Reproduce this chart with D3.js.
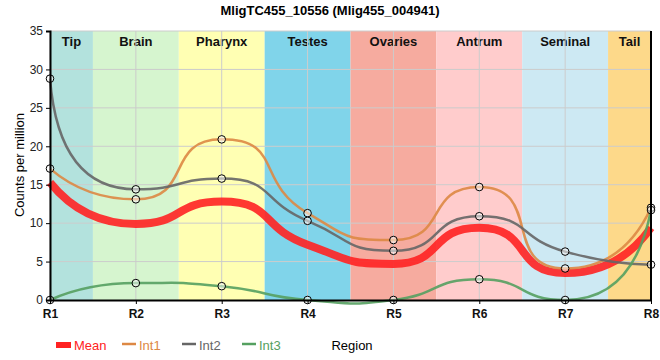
<!DOCTYPE html>
<html><head><meta charset="utf-8">
<script src="https://cdn.jsdelivr.net/npm/d3@7"></script>
<style>body{margin:0;background:#fff;font-family:"Liberation Sans",Arial,sans-serif;}</style>
</head><body><svg id="c" width="660" height="360"></svg>
<script>
const regions = ["R1","R2","R3","R4","R5","R6","R7","R8"];
const tissues = ["Tip","Brain","Pharynx","Testes","Ovaries","Antrum","Seminal","Tail"];
const tissueColors = ["#b3e2dd","#d6f5cf","#ffffb3","#80d4ea","#f6ab9f","#ffcccc","#cde9f3","#fdd98a"];
const int1 = [17.1,13.1,20.9,11.3,7.8,14.7,4.1,12.0];
const int2 = [28.8,14.4,15.8,10.3,6.4,10.9,6.3,4.6];
const int3 = [0,2.2,1.8,0,0,2.7,0,11.7];
const meanVals = [15.3,9.9,12.8,7.2,4.7,9.4,3.5,9.4];
const yTicks = [0,5,10,15,20,25,30,35];
const title = "MligTC455_10556 (Mlig455_004941)";

const svg = d3.select("#c");
const L=50, R=651, T=31, B=300;
const x = d3.scalePoint().domain(regions).range([L,R]);
const y = d3.scaleLinear().domain([0,35]).range([B,T]);
const step = x.step();

// bands
const g = svg.append("g");
tissues.forEach((t,i)=>{
  const x0 = Math.max(L, x(regions[i]) - step/2), x1 = Math.min(R, x(regions[i]) + step/2);
  g.append("rect").attr("x",x0).attr("y",T).attr("width",x1-x0).attr("height",B-T).attr("fill",tissueColors[i]);
  g.append("text").attr("x",(x0+x1)/2).attr("y",T+15).attr("text-anchor","middle")
    .attr("font-size",13).attr("font-weight","bold").attr("fill","#111").text(t);
});
// grid
yTicks.forEach(v=>{ if(v>0) svg.append("line").attr("x1",L).attr("x2",R).attr("y1",y(v)).attr("y2",y(v)).attr("stroke","#ccc").attr("stroke-width",1);});
regions.forEach(r=>svg.append("line").attr("x1",x(r)).attr("x2",x(r)).attr("y1",T).attr("y2",B).attr("stroke","#ccc").attr("stroke-width",1));

// smooth spline: horizontal tangents at local extrema, handle length proportional to chord
const K = 0.55;
function splinePath(vals){
  const P = vals.map((v,i)=>[x(regions[i]), y(v)]);
  const n = P.length;
  const dist=(a,b)=>Math.hypot(b[0]-a[0], b[1]-a[1]);
  const Lh=[], Rh=[];
  for(let i=1;i<n-1;i++){
    let u;
    if((vals[i]-vals[i-1])*(vals[i+1]-vals[i])<0) u=[1,0];
    else { const dx=P[i+1][0]-P[i-1][0], dy=P[i+1][1]-P[i-1][1], m=Math.hypot(dx,dy); u=[dx/m,dy/m]; }
    const l=K*dist(P[i-1],P[i]), r=K*dist(P[i],P[i+1]);
    Lh[i]=[P[i][0]-l*u[0], P[i][1]-l*u[1]];
    Rh[i]=[P[i][0]+r*u[0], P[i][1]+r*u[1]];
  }
  const p=d3.path();
  p.moveTo(P[0][0],P[0][1]);
  p.quadraticCurveTo(Lh[1][0],Lh[1][1],P[1][0],P[1][1]);
  for(let i=1;i<n-2;i++) p.bezierCurveTo(Rh[i][0],Rh[i][1],Lh[i+1][0],Lh[i+1][1],P[i+1][0],P[i+1][1]);
  p.quadraticCurveTo(Rh[n-2][0],Rh[n-2][1],P[n-1][0],P[n-1][1]);
  return p.toString();
}
const series = [
  {name:"Int1", vals:int1, color:"#dd8844"},
  {name:"Int2", vals:int2, color:"#666666"},
  {name:"Int3", vals:int3, color:"#55a060"}
];
svg.append("path").attr("d",splinePath(meanVals)).attr("fill","none").attr("stroke","#ff2222").attr("stroke-width",8).attr("stroke-opacity",0.9);
series.forEach(s=>{
  svg.append("path").attr("d",splinePath(s.vals)).attr("fill","none").attr("stroke",s.color).attr("stroke-width",2.5).attr("stroke-opacity",0.9);
});
series.forEach(s=>{
  svg.selectAll(null).data(s.vals).enter().append("circle")
    .attr("cx",(d,i)=>x(regions[i])).attr("cy",d=>y(d)).attr("r",3.8)
    .attr("fill","#fff").attr("fill-opacity",0.5).attr("stroke","#000").attr("stroke-width",1);
});

// axes
const ya = svg.append("g").attr("transform",`translate(${L},0)`).call(d3.axisLeft(y).tickValues(yTicks).tickSize(4));
ya.select(".domain").attr("stroke-width",2);
ya.selectAll("text").attr("font-size",12).attr("fill","#222").attr("font-family","Liberation Sans, Arial");
const xa = svg.append("g").attr("transform",`translate(0,${B})`).call(d3.axisBottom(x).tickSize(4).tickSizeOuter(0));
xa.select(".domain").attr("stroke-width",2);
xa.selectAll("text").attr("font-size",12).attr("font-weight","bold").attr("fill","#111").attr("font-family","Liberation Sans, Arial").attr("dy","0.9em");
svg.append("line").attr("x1",R).attr("x2",R).attr("y1",T).attr("y2",B).attr("stroke","#000").attr("stroke-width",2);

// title & labels
svg.append("text").attr("x",330).attr("y",15).attr("text-anchor","middle").attr("font-size",13).attr("font-weight","bold").text(title);
svg.append("text").attr("transform","translate(24,165) rotate(-90)").attr("text-anchor","middle").attr("font-size",13).text("Counts per million");
svg.append("text").attr("x",352).attr("y",350).attr("text-anchor","middle").attr("font-size",13).text("Region");

// legend
const leg = [{name:"Mean",color:"#ff2222",x:56},{name:"Int1",color:"#dd8844",x:122},{name:"Int2",color:"#666666",x:182},{name:"Int3",color:"#55a060",x:242}];
leg.forEach((l,i)=>{
  if(i===0) svg.append("rect").attr("x",l.x).attr("y",342).attr("width",15).attr("height",6).attr("fill",l.color);
  else svg.append("line").attr("x1",l.x).attr("x2",l.x+14).attr("y1",344).attr("y2",344).attr("stroke",l.color).attr("stroke-width",2.5);
  svg.append("text").attr("x",l.x+(i===0?18:17)).attr("y",350).attr("font-size",13).attr("fill",l.color).text(l.name);
});
</script></body></html>
